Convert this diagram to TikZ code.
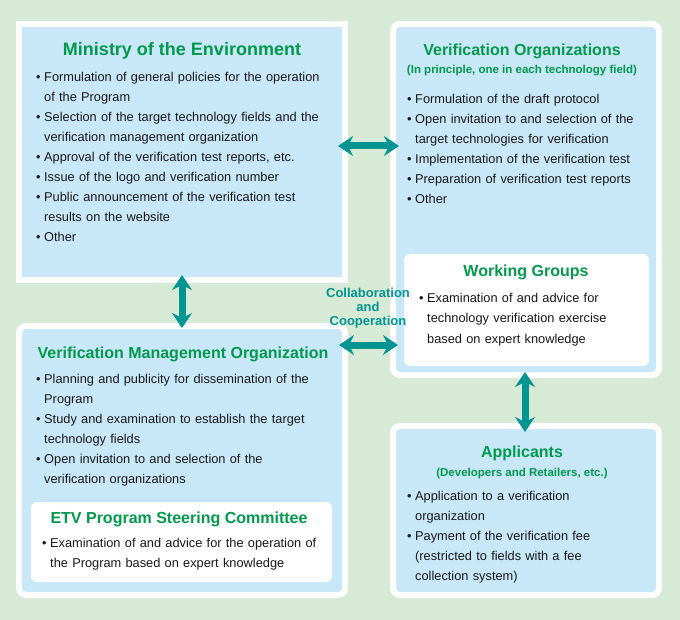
\documentclass[tikz,border=0pt]{standalone}
\usepackage{fontspec}
\setmainfont{Liberation Sans}
\usetikzlibrary{arrows.meta}
\definecolor{bgc}{HTML}{D6EAD6}
\definecolor{boxc}{HTML}{C8E7F8}
\definecolor{ttl}{HTML}{00994C}
\definecolor{tealc}{HTML}{009592}
\newcommand\bt{\makebox[8pt][l]{\textbullet}}
\newcommand\ct{\hspace*{8pt}}
\tikzset{
  bluebox/.style={draw=white, line width=6pt, fill=boxc, inner sep=0pt, outer sep=0pt, rounded corners=7pt},
  whitebox/.style={fill=white, inner sep=0pt, outer sep=0pt, rounded corners=6pt},
  body/.style={anchor=base west, inner sep=0pt, text width=#1, align=left, text=black!90, font=\fontsize{12.8}{20}\selectfont},
  title/.style={anchor=base, inner sep=0pt, text=ttl, font=\bfseries\fontsize{16}{16}\selectfont},
  subtitle/.style={anchor=base, inner sep=0pt, text=ttl, font=\bfseries\fontsize{11.5}{12}\selectfont},
  biarrow/.style={draw=tealc, line width=7pt, {Stealth[length=15pt, width=20pt, inset=5pt]}-{Stealth[length=15pt, width=20pt, inset=5pt]}}
}
\begin{document}
\begin{tikzpicture}[x=1pt, y=-1pt]
\fill[bgc] (0,0) rectangle (680,620);
\useasboundingbox (0,0) rectangle (680,620);

% boxes
\node[bluebox, rounded corners=0pt, minimum width=326pt, minimum height=256pt] (min) at (182,152) {};
\node[bluebox, minimum width=266pt, minimum height=351pt] (vo) at (526,199.5) {};
\node[bluebox, minimum width=326pt, minimum height=269pt] (vmo) at (182,460.5) {};
\node[bluebox, minimum width=266pt, minimum height=169pt] (app) at (526,510.5) {};
\node[whitebox, minimum width=245pt, minimum height=112pt] (wg) at (526.5,310) {};
\node[whitebox, minimum width=301pt, minimum height=80pt] (etv) at (181.5,542) {};

% Ministry
\node[title, font=\bfseries\fontsize{18}{18}\selectfont] (mint) at (182,56) {Ministry of the Environment};
\node[body=300pt] (minb) at (36,82) {\bt Formulation of general policies for the operation\\ \ct of the Program\\ \bt Selection of the target technology fields and the\\ \ct verification management organization\\ \bt Approval of the verification test reports, etc.\\ \bt Issue of the logo and verification number\\ \bt Public announcement of the verification test\\ \ct results on the website\\ \bt Other};

% Verification Organizations
\node[title] (vot) at (522,56) {Verification Organizations};
\node[subtitle] (vos) at (522,74) {(In principle, one in each technology field)};
\node[body=240pt] (vob) at (407,104) {\bt Formulation of the draft protocol\\ \bt Open invitation to and selection of the\\ \ct target technologies for verification\\ \bt Implementation of the verification test\\ \bt Preparation of verification test reports\\ \bt Other};

% Working Groups
\node[title] (wgt) at (526,277) {Working Groups};
\node[body=225pt] (wgb) at (419,303) {\bt Examination of and advice for\\ \ct technology verification exercise\\ \ct based on expert knowledge};

% Verification Management Organization
\node[title] (vmot) at (183,358) {Verification Management Organization};
\node[body=300pt] (vmob) at (36,383) {\bt Planning and publicity for dissemination of the\\ \ct Program\\ \bt Study and examination to establish the target\\ \ct technology fields\\ \bt Open invitation to and selection of the\\ \ct verification organizations};

% ETV
\node[title] (etvt) at (179,523) {ETV Program Steering Committee};
\node[body=290pt] (etvb) at (42,547) {\bt Examination of and advice for the operation of\\ \ct the Program based on expert knowledge};

% Applicants
\node[title] (appt) at (522,457) {Applicants};
\node[subtitle] (apps) at (522,476) {(Developers and Retailers, etc.)};
\node[body=240pt] (appb) at (407,500) {\bt Application to a verification\\ \ct organization\\ \bt Payment of the verification fee\\ \ct (restricted to fields with a fee\\ \ct collection system)};

% Collaboration label
\node[anchor=base, inner sep=0pt, text width=100pt, align=center, text=tealc, font=\bfseries\fontsize{13}{14}\selectfont] (collab) at (368,298) {Collaboration\\ and\\ Cooperation};

% arrows
\draw[biarrow] ([xshift=-7pt]min.east |- 0,146) -- ([xshift=6pt]vo.west |- 0,146);
\draw[biarrow] ([xshift=-6pt]vmo.east |- 0,345) -- ([xshift=5pt]vo.west |- 0,345);
\draw[biarrow] ([yshift=5pt]min.south) -- ([yshift=-2pt]vmo.north);
\draw[biarrow] ([yshift=3pt]vo.south -| 525,0) -- ([yshift=-6pt]app.north -| 525,0);
\end{tikzpicture}
\end{document}
